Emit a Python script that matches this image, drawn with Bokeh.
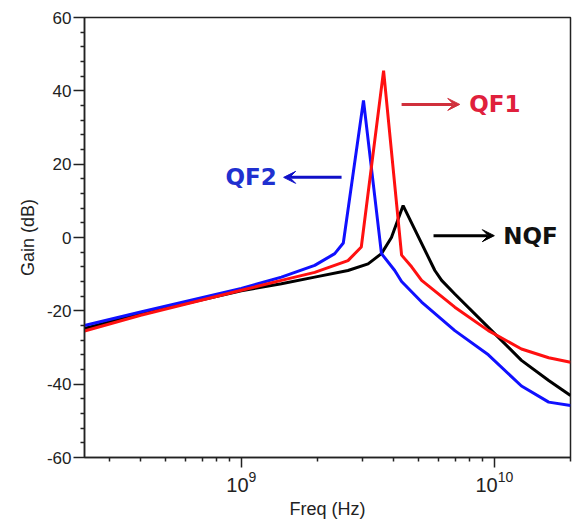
from bokeh.plotting import figure
from bokeh.models import FixedTicker, Arrow, VeeHead, Label, Range1d
from bokeh.embed import file_html
from bokeh.resources import INLINE

# ---- data ----
freq_qf2 = [2.4e8, 4e8, 1e9, 1.44e9, 1.95e9, 2.34e9, 2.53e9, 3.04e9, 3.58e9,
            4.04e9, 4.30e9, 5.16e9, 6.98e9, 9.47e9, 1.28e10, 1.64e10, 2e10]
gain_qf2 = [-24.0, -20.3, -13.9, -10.8, -7.6, -4.4, -1.5, 37.4, -4.4,
            -9.0, -12.0, -17.6, -25.4, -32.0, -40.5, -44.9, -45.8]

freq_qf1 = [2.4e8, 4e8, 1e9, 1.44e9, 1.95e9, 2.64e9, 2.98e9, 3.65e9, 4.30e9,
            4.71e9, 5.16e9, 6.98e9, 9.47e9, 1.28e10, 1.64e10, 2e10]
gain_qf1 = [-25.5, -21.2, -14.4, -11.7, -9.5, -6.3, -2.6, 45.5, -4.8,
            -8.0, -11.7, -19.0, -25.4, -30.4, -32.8, -34.0]

freq_nqf = [2.4e8, 4e8, 1e9, 1.44e9, 1.95e9, 2.64e9, 3.17e9, 3.58e9, 3.92e9,
            4.36e9, 5.82e9, 6.19e9, 6.98e9, 9.47e9, 1.28e10, 1.64e10, 2e10]
gain_nqf = [-24.8, -20.8, -14.5, -12.6, -10.8, -9.0, -7.2, -4.4, 0.0,
            8.7, -9.0, -11.7, -15.4, -24.5, -33.5, -39.0, -43.1]

x_major = [1e9, 1e10]
x_minor = [2e8, 3e8, 4e8, 5e8, 6e8, 7e8, 8e8, 9e8,
           2e9, 3e9, 4e9, 5e9, 6e9, 7e9, 8e9, 9e9, 2e10]
y_major = [-60, -40, -20, 0, 20, 40, 60]
y_labels = ["-60", "-40", "-20", "0", "20", "40", "60"]
y_minor = [v for v in range(-60, 61, 4) if v % 20 != 0]

series_names = ["QF1", "QF2", "NQF"]

p = figure(width=576, height=525, x_axis_type="log",
           x_range=Range1d(2.4e8, 2e10), y_range=Range1d(-60, 60),
           output_backend="svg", toolbar_location=None,
           min_border_left=84, min_border_right=6,
           min_border_top=17, min_border_bottom=68)

p.background_fill_color = "white"
p.border_fill_color = "white"
p.outline_line_color = "#222222"
p.outline_line_width = 1.5
p.xgrid.visible = False
p.ygrid.visible = False

p.xaxis.ticker = FixedTicker(ticks=x_major, minor_ticks=x_minor)
p.yaxis.ticker = FixedTicker(ticks=y_major, minor_ticks=y_minor)
p.yaxis.major_label_overrides = {v: s for v, s in zip(y_major, y_labels)}

for ax in (p.xaxis[0], p.yaxis[0]):
    ax.axis_line_color = "#222222"
    ax.axis_line_width = 1.5
    ax.major_tick_line_color = "#222222"
    ax.minor_tick_line_color = "#222222"
    ax.major_tick_line_width = 1.5
    ax.minor_tick_line_width = 1.5
    ax.major_tick_in = 0
    ax.minor_tick_in = 0
    ax.minor_tick_out = 4
    ax.major_label_text_font = "Liberation Sans"
    ax.major_label_text_font_size = "17px"
    ax.major_label_text_color = "#222222"
    ax.axis_label_text_font = "Liberation Sans"
    ax.axis_label_text_font_size = "18px"
    ax.axis_label_text_font_style = "normal"
    ax.axis_label_text_color = "#222222"

p.xaxis.major_label_text_font_size = "20px"
p.yaxis.major_tick_out = 11
p.yaxis.major_label_standoff = 2
p.yaxis.axis_label = "Gain (dB)"
p.yaxis.axis_label_standoff = 6
p.xaxis.major_tick_out = 10
p.xaxis.major_label_standoff = 3
p.xaxis.axis_label = "Freq (Hz)"
p.xaxis.axis_label_standoff = 4

p.line(freq_nqf, gain_nqf, line_color="black", line_width=3)
p.line(freq_qf2, gain_qf2, line_color="#1010ff", line_width=3)
p.line(freq_qf1, gain_qf1, line_color="#ff1010", line_width=3)

# annotations
p.add_layout(Arrow(end=VeeHead(size=12, line_color="#d0303c", fill_color="#d0303c"),
                   x_start=4.3e9, y_start=36.3, x_end=7.3e9, y_end=36.3,
                   line_color="#d0303c", line_width=3))
p.add_layout(Label(x=7.95e9, y=36.3, text=series_names[0], text_color="#e0203c",
                   text_font="DejaVu Sans", text_font_style="bold",
                   text_font_size="23px", text_align="left", text_baseline="middle"))

p.add_layout(Arrow(end=VeeHead(size=12, line_color="#1010c8", fill_color="#1010c8"),
                   x_start=2.49e9, y_start=16.4, x_end=1.47e9, y_end=16.4,
                   line_color="#1010c8", line_width=3))
p.add_layout(Label(x=1.38e9, y=16.4, text=series_names[1], text_color="#2030d0",
                   text_font="DejaVu Sans", text_font_style="bold",
                   text_font_size="23px", text_align="right", text_baseline="middle"))

p.add_layout(Arrow(end=VeeHead(size=12, line_color="black", fill_color="black"),
                   x_start=5.75e9, y_start=0.5, x_end=1.0e10, y_end=0.5,
                   line_color="black", line_width=3))
p.add_layout(Label(x=1.085e10, y=0.5, text=series_names[2], text_color="#111111",
                   text_font="DejaVu Sans", text_font_style="bold",
                   text_font_size="23px", text_align="left", text_baseline="middle"))

open("out.html", "w").write(file_html(p, INLINE))
